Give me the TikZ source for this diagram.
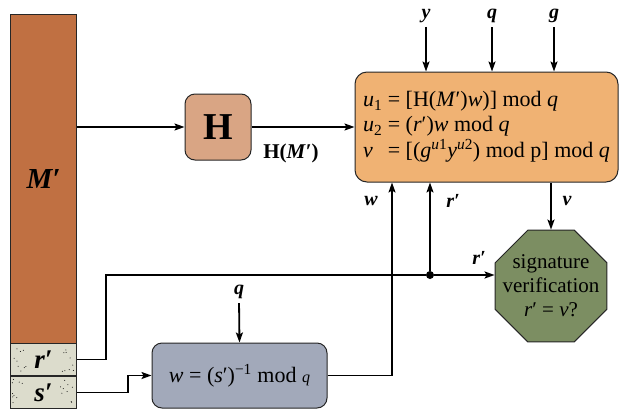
\documentclass[tikz,border=0pt]{standalone}
\usepackage{fontspec}
\setmainfont{Liberation Serif}
\usetikzlibrary{arrows.meta,positioning,shapes.geometric}
\definecolor{cMsg}{HTML}{C07042}
\definecolor{cSig}{HTML}{DCDCCC}
\definecolor{cHash}{HTML}{D9A584}
\definecolor{cVer}{HTML}{F0B273}
\definecolor{cInv}{HTML}{A2A9BA}
\definecolor{cCmp}{HTML}{7C8E62}
\tikzset{
  blk/.style={draw=black!85, line width=1pt, fill=#1, rounded corners=10pt, inner sep=0pt},
  sig/.style={draw=black!85, line width=1pt, fill=cSig, inner sep=0pt, anchor=north west,
              minimum width=66pt, minimum height=32pt,
              font=\fontsize{27}{27}\selectfont\bfseries\itshape},
  flow/.style={-{Stealth[length=10pt,width=7pt,inset=2pt]}, line width=1.8pt},
  lbl/.style={font=\fontsize{20}{20}\selectfont\bfseries\itshape, inner sep=1pt},
}

\begin{document}
\begin{tikzpicture}[x=1pt, y=-1pt]
  \useasboundingbox (0,0) rectangle (621,410);
  % message and received signature
  \node[draw=black!85, line width=1pt, fill=cMsg, anchor=north west, inner sep=0pt,
        minimum width=66pt, minimum height=329pt,
        font=\fontsize{29}{29}\selectfont\bfseries\itshape] (msg) at (10,14) {M′};
  \node[sig] (rr) at (10,343) {r′};
  \node[sig] (ss) at (10,376) {s′};
  \pgfmathsetseed{7}
  \foreach \yy in {343,376}
    \foreach \k in {1,...,18}
      \fill ({12+14*rnd+(\k>9)*48}, {\yy+3+26*rnd}) circle (0.5pt);
  % hash, verifier, inverse and comparison
  \node[blk=cHash, minimum width=66pt, minimum height=66pt,
        font=\fontsize{38}{38}\selectfont\bfseries] (hash) at (218,127) {H};
  \node[blk=cVer, rounded corners=12pt, minimum width=263pt, minimum height=110pt,
        font=\fontsize{22}{25}\selectfont] (ver) at (486.5,127) {%
    \begin{tabular}{@{}l@{~}l@{}}
      \textit{u}\textsubscript{1} & = [H(\textit{M}′)\textit{w})] mod \textit{q}\\
      \textit{u}\textsubscript{2} & = (\textit{r}′)\textit{w} mod \textit{q}\\
      \textit{v} & = [(\textit{g}\textsuperscript{\textit{u}1}\textit{y}\textsuperscript{\textit{u}2}) mod p] mod \textit{q}
    \end{tabular}};
  \node[blk=cInv, minimum width=175pt, minimum height=65pt,
        font=\fontsize{22}{24}\selectfont] (inv) at (239.5,375.5)
        {\textit{w} = (\textit{s}′)\textsuperscript{−1} mod {\fontsize{16}{16}\selectfont\textit{q}}};
  \node[regular polygon, regular polygon sides=8, draw=black!85, line width=1pt,
        fill=cCmp, minimum size=121pt, inner sep=0pt,
        font=\fontsize{21}{24}\selectfont] (cmp) at (551,286)
        {\smash{\makebox[0pt]{\raisebox{-7pt}{\begin{tabular}{@{}c@{}}
          signature\\verification\\\textit{r}′ = \textit{v}?\end{tabular}}}}};
  % public inputs
  \node[lbl] (yin) at (426,16) {y};
  \node[lbl] (qin) at (492,16) {q};
  \node[lbl] (gin) at (554,16) {g};
  \node[lbl] (qinv) at (239,292) {q};
  \draw[flow, shorten <=3pt] (yin.south) -- (yin.south |- ver.north);
  \draw[flow, shorten <=3pt] (qin.south) -- (qin.south |- ver.north);
  \draw[flow, shorten <=3pt] (gin.south) -- (gin.south |- ver.north);
  \draw[flow, shorten <=3pt] (qinv.south) -- (inv.north);
  % connectors
  \draw[flow] (msg.east |- hash.west) -- (hash.west);
  \draw[flow] (hash.east) -- (hash.east -| ver.west);
  \node[font=\fontsize{21}{21}\selectfont\bfseries] (hm) at (291,153) {H(\textit{M}′)};
  \node[circle, fill, inner sep=0pt, minimum size=8pt] (jr) at (430,275) {};
  \draw[flow] (rr.east) -- ++(29,0) |- (jr) -- (jr -| cmp.west);
  \draw[flow] (jr) -- (jr |- ver.south);
  \draw[flow] (ss.east) -- ++(51,0) |- (inv.west);
  \draw[flow] (inv.east) -| ([xshift=-94.5pt]ver.south);
  \draw[flow] (cmp.north |- ver.south) -- (cmp.north);
  \node[lbl] (lw) at (371,201) {w};
  \node[lbl] (lr) at (453,201) {r′};
  \node[lbl] (lv) at (567,201) {v};
  \node[lbl] (lrc) at (479,258) {r′};
\end{tikzpicture}
\end{document}
